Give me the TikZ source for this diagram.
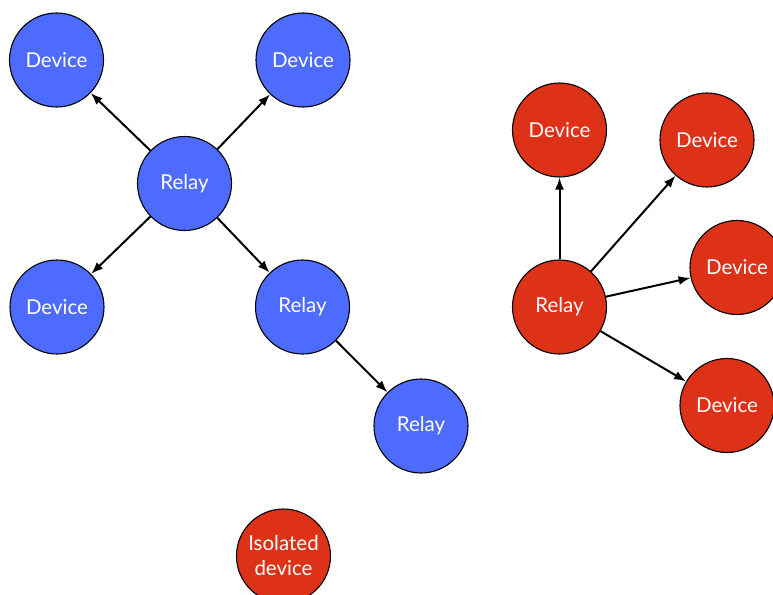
\documentclass[tikz,border=0pt]{standalone}
\usepackage{fontspec}
\setmainfont{Lato}
\usetikzlibrary{arrows.meta}
\definecolor{nblue}{HTML}{4D6BFE}
\definecolor{nred}{HTML}{DD3118}
\begin{document}
\begin{tikzpicture}[x=1pt,y=-1pt,
  dev/.style={circle,draw=black,line width=1.1pt,minimum size=94pt,inner sep=0pt,text=white,font=\fontsize{20.5}{25}\selectfont,align=center},
  bdev/.style={dev,fill=nblue},
  rdev/.style={dev,fill=nred},
  conn/.style={-{Latex[length=12pt,width=9pt]},line width=2pt}]
\useasboundingbox (0,0) rectangle (773,594);
\node[bdev] (b1) at (56.5,60) {Device};
\node[bdev] (b2) at (303,60) {Device};
\node[bdev] (br) at (184.5,183.5) {Relay};
\node[bdev] (b3) at (57,307) {Device};
\node[bdev] (br2) at (302.5,307) {Relay};
\node[bdev] (br3) at (421,426) {Relay};
\node[rdev] (r1) at (559.5,130) {Device};
\node[rdev] (r2) at (707,140) {Device};
\node[rdev] (r3) at (737,267.5) {Device};
\node[rdev] (rr) at (559.5,307) {Relay};
\node[rdev] (r4) at (727,405.5) {Device};
\node[rdev] (iso) at (283.5,556) {Isolated\\device};
\draw[conn] (br) -- (b1);
\draw[conn] (br) -- (b2);
\draw[conn] (br) -- (b3);
\draw[conn] (br) -- (br2);
\draw[conn] (br2) -- (br3);
\draw[conn] (rr) -- (r1);
\draw[conn] (rr) -- (r2);
\draw[conn] (rr) -- (r3);
\draw[conn] (rr) -- (r4);
\end{tikzpicture}
\end{document}
